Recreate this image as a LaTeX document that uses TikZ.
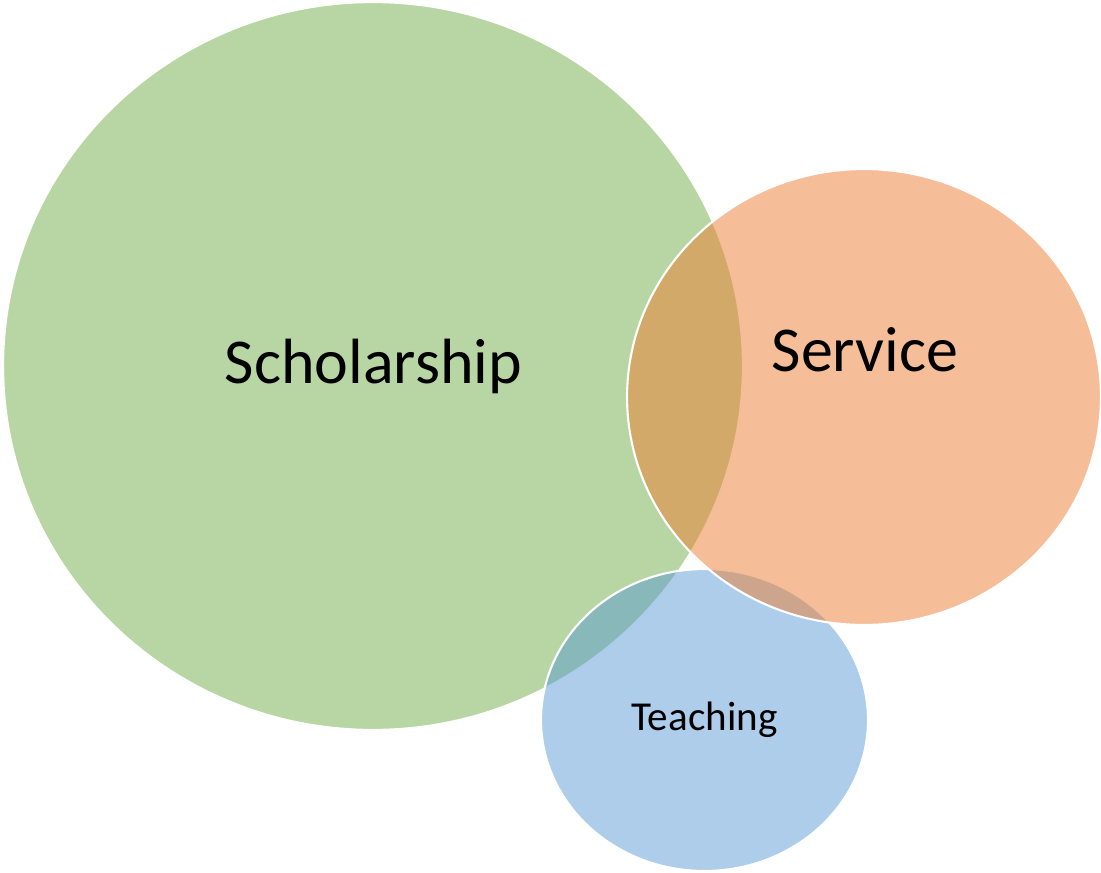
\documentclass[tikz,border=0pt]{standalone}
\usepackage{fontspec}
\setmainfont{Carlito}
\usepackage{xcolor}
\usetikzlibrary{shapes.geometric}
\definecolor{scholargreen}{HTML}{70AD47}
\definecolor{serviceorange}{HTML}{ED7D31}
\definecolor{teachblue}{HTML}{5B9BD5}
\tikzstyle{venn} = [ellipse, inner sep=0pt, draw=white, line width=1.2pt, fill opacity=0.5, draw opacity=1]
\tikzstyle{biglabel} = [anchor=base, inner sep=0pt, font=\fontsize{36.4}{40}\selectfont]
\tikzstyle{smalllabel} = [anchor=base, inner sep=0pt, font=\fontsize{23.4}{26}\selectfont]

\begin{document}
\begin{tikzpicture}[x=0.02cm, y=-0.02cm]

\useasboundingbox (0,0) rectangle (1101,872);

\node (scholar) [venn, fill=scholargreen, minimum width=14.8cm, minimum height=14.56cm] at (373,366) {};
\node (teach) [venn, fill=teachblue, minimum width=6.54cm, minimum height=6.04cm] at (704.5,720) {};
\node (serv) [venn, fill=serviceorange, minimum width=9.48cm, minimum height=9.12cm] at (864,397) {};

\node (scholartext) [biglabel] at (373.5,383) {Scholarship};
\node (servtext) [biglabel] at (865,371) {Service};
\node (teachtext) [smalllabel] at (704.5,730) {Teaching};

\end{tikzpicture}
\end{document}
